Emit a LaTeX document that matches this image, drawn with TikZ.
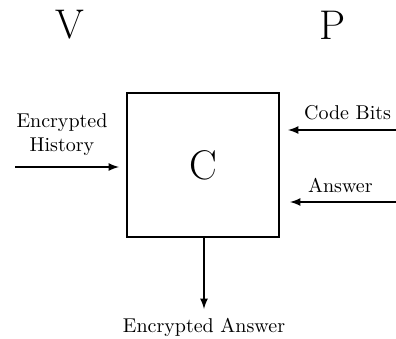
\documentclass[tikz,border=0pt]{standalone}
\usepackage{tikz}
\usetikzlibrary{arrows, positioning}
\tikzstyle{party} = [font=\huge]
\tikzstyle{block} = [rectangle, draw=black, line width=1pt, minimum width=76pt, minimum height=72pt, font=\huge]
\tikzstyle{flow} = [->, >=latex, line width=0.8pt]

\begin{document}
\begin{tikzpicture}[x=0.5pt, y=-0.5pt]
				\useasboundingbox (0, 0) rectangle (396, 338);

				\node (V) [party] at (70, 25) {V};
				\node (P) [party] at (333, 25) {P};

				\node (C) [block] at (203, 165) {C};

				% history from V
				\node (HistLabel) [align=center] at (62, 135) {Encrypted\\History};
				\coordinate (HistIn) at (15, 167);
				\draw [flow, shorten >=3.5pt] (HistIn) -- (HistIn -| C.west);

				% code bits from P
				\node (BitsLabel) [anchor=west] at (297, 113) {Code Bits};
				\coordinate (BitsIn) at (396, 130);
				\draw [flow, shorten >=4pt] (BitsIn) -- (BitsIn -| C.east);

				% answer from P
				\node (AnsLabel) [anchor=west] at (301, 185) {Answer};
				\coordinate (AnsIn) at (396, 202);
				\draw [flow, shorten >=5pt] (AnsIn) -- (AnsIn -| C.east);

				% output
				\node (Out) at (204, 327) {Encrypted Answer};
				\coordinate (OutEnd) at (204, 309);
				\draw [flow] (C.south -| OutEnd) -- (OutEnd);
\end{tikzpicture}
\end{document}
